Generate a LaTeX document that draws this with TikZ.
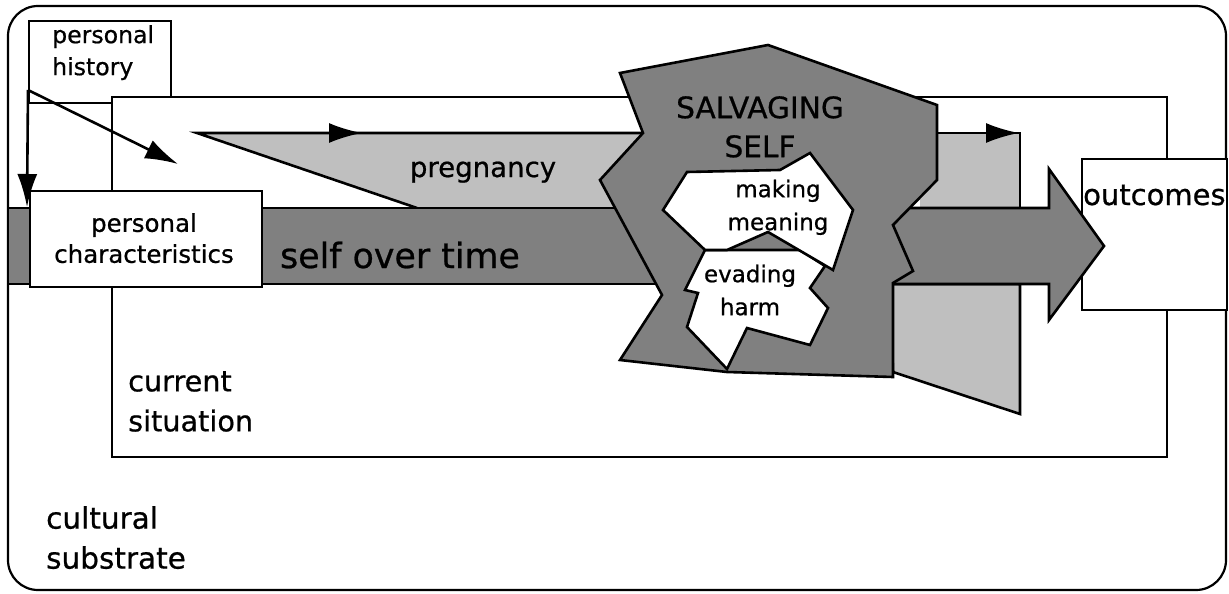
\documentclass[tikz,border=0pt]{standalone}
\usepackage{fontspec}
\setmainfont{DejaVu Sans}[FakeBold=0.7]
\usetikzlibrary{arrows.meta}
\begin{document}
\begin{tikzpicture}[x=1pt,y=-1pt,
  framebox/.style={draw,line width=2.2pt,fill=white,inner sep=0pt},
  outl/.style={draw,line width=2.6pt,line join=miter,miter limit=6},
  darkfill/.style={fill=black!50},
  lightfill/.style={fill=black!25},
  edge/.style={line width=2.6pt},
  headline/.style={line width=2.6pt,-{Latex[length=33pt,width=20pt]}},
  txt/.style={inner sep=0pt,text=black}
]
\useasboundingbox (0,0) rectangle (1229,594);

% outer frame and boxes
\node[framebox,rounded corners=30pt,minimum width=1218pt,minimum height=584pt] (culture) at (617,298) {};
\node[framebox,minimum width=142pt,minimum height=82pt] (history) at (100,62) {};
\node[framebox,minimum width=1055pt,minimum height=360pt] (situation) at (639.5,277) {};

% pregnancy wedge and self band (left part)
\fill[lightfill] (197,133) -- (650,133) -- (650,208) -- (417,208) -- cycle;
\coordinate (pregtip) at (197,133);
\coordinate (pregmid) at (362,133);
\coordinate (pregend) at (650,133);
\coordinate (wedgeend) at (417,208);
\draw[edge] (wedgeend) -- (pregtip) -- (pregend);
\draw[headline] (pregtip) -- (pregmid);
\draw[outl,darkfill] (8,208) rectangle (665,284);

% personal characteristics
\node[framebox,minimum width=232pt,minimum height=96pt] (traits) at (146,239) {};

% arrows from personal history
\coordinate (hsrc) at (28,90);
\coordinate (hdiag) at (178,164);
\coordinate (hdown) at (27,207);
\draw[headline] (hsrc) -- (hdiag);
\draw[headline] (hsrc) -- (hdown);

% right part of pregnancy band
\fill[lightfill] (920,133) rectangle (1020,208);
\coordinate (rprega) at (920,133);
\coordinate (rpregb) at (960,133);
\coordinate (rpregc) at (1020,133);
\coordinate (rpregd) at (1020,208);
\coordinate (rpregtip) at (1019,133);
\draw[edge] (rprega) -- (rpregc) -- (rpregd);
\draw[headline] (rpregb) -- (rpregtip);
\draw[outl,lightfill] (890,284) -- (1020,284) -- (1020,414) -- (893,372) -- cycle;

% outcomes box
\node[framebox,minimum width=145pt,minimum height=151pt] (outcomes) at (1154.5,234.5) {};

% big arrow
\draw[outl,darkfill] (880,208) -- (1049,208) -- (1049,169) -- (1104,246) -- (1049,320) -- (1049,284) -- (880,284) -- cycle;

% salvaging self
\draw[outl,darkfill] (620,73) -- (768,45) -- (937,105) -- (937,180) -- (893,225) -- (913,271) -- (893,283) -- (893,377) -- (727,372) -- (620,360) -- (662,295) -- (600,180) -- (643,133) -- cycle;

% evading harm
\draw[outl,fill=white] (705,250) -- (685,290) -- (698,293) -- (687,327) -- (727,369) -- (747,328) -- (810,345) -- (828,308) -- (810,288) -- (825,266) -- (800,250) -- cycle;
% making meaning
\draw[outl,fill=white] (663,210) -- (687,172) -- (780,170) -- (810,153) -- (853,210) -- (833,270) -- (768,232) -- (727,250) -- (705,250) -- cycle;

% texts
\node[txt,anchor=north west,align=left,font=\fontsize{23.6}{32}\selectfont] (historytext) at (52,25) {personal\\history};
\node[txt,anchor=north,align=center,font=\fontsize{24.5}{31}\selectfont] (traitstext) at (144,213) {personal\\characteristics};
\node[txt,anchor=base,font=\fontsize{27.6}{33}\selectfont] (pregtext) at (483,177) {pregnancy};
\node[txt,anchor=base,font=\fontsize{34.8}{40}\selectfont] (selftext) at (400,268) {self over time};
\node[txt,anchor=north,align=center,font=\fontsize{29.6}{39}\selectfont] (salvtext) at (760,96) {SALVAGING\\SELF};
\node[txt,anchor=north,align=center,font=\fontsize{23}{33}\selectfont] (meantext) at (778,179.5) {making\\meaning};
\node[txt,anchor=north,align=center,font=\fontsize{23}{33}\selectfont] (evadetext) at (750,264.5) {evading\\harm};
\node[txt,anchor=base west,font=\fontsize{29}{34}\selectfont] (outtext) at (1083,205) {outcomes};
\node[txt,anchor=north west,align=left,font=\fontsize{28.7}{40}\selectfont] (sittext) at (128,371) {current\\situation};
\node[txt,anchor=north west,align=left,font=\fontsize{29.5}{40}\selectfont] (culttext) at (46,506) {cultural\\substrate};
\end{tikzpicture}
\end{document}
